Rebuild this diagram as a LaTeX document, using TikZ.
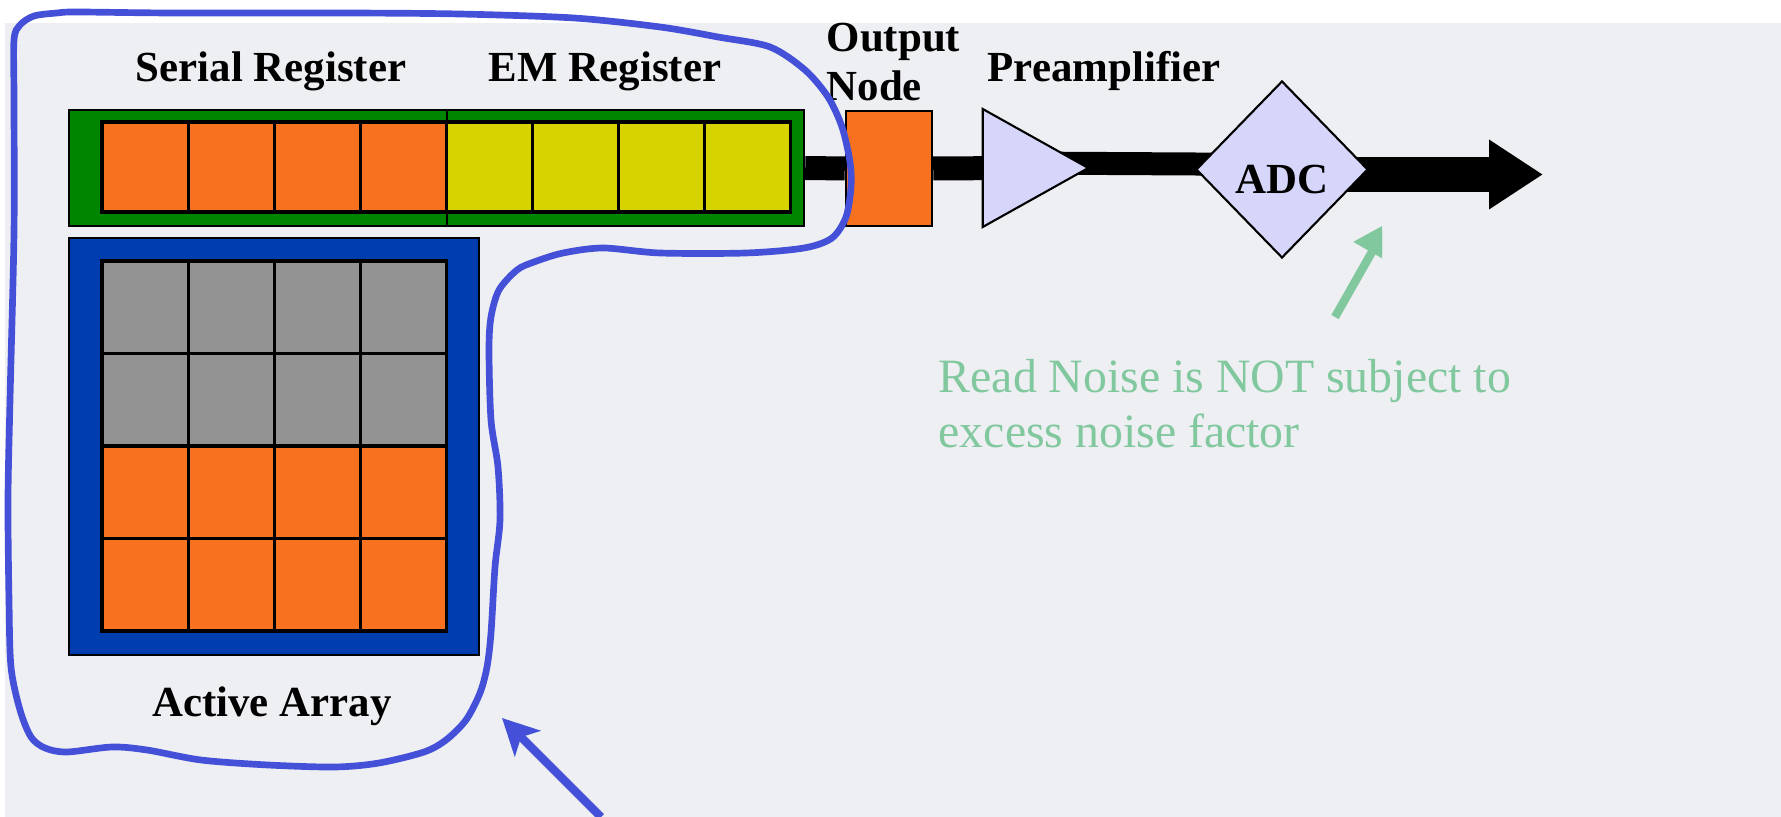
\documentclass[tikz,border=0pt]{standalone}
\usepackage{fontspec}
\setmainfont{Liberation Serif}
\usetikzlibrary{shapes.geometric,arrows.meta,backgrounds}

\definecolor{slidebg}{HTML}{EEEFF3}
\definecolor{cellorange}{HTML}{F7711F}
\definecolor{cellyellow}{HTML}{D7D300}
\definecolor{cellgrey}{HTML}{939393}
\definecolor{reggreen}{HTML}{008500}
\definecolor{arrayblue}{HTML}{003DAF}
\definecolor{partblue}{HTML}{D5D6FA}
\definecolor{lassoblue}{HTML}{4450D8}
\definecolor{notegreen}{HTML}{82C89E}

\tikzset{
    heading/.style={font=\fontsize{12.2}{14.2}\selectfont\bfseries, inner sep=0},
    cell/.style={draw=black, line width=0.9pt},
    regbox/.style={draw=black, fill=reggreen, line width=0.7pt, minimum height=1.16cm, inner sep=0},
    arraybox/.style={draw=black, fill=arrayblue, line width=0.7pt, minimum width=4.10cm, minimum height=4.17cm, inner sep=0},
    outbox/.style={draw=black, fill=cellorange, line width=0.7pt, minimum width=0.86cm, minimum height=1.15cm, inner sep=0},
    amp/.style={isosceles triangle, isosceles triangle stretches, draw=black, fill=partblue, line width=0.6pt,
        minimum width=1.18cm, minimum height=1.055cm, inner sep=0},
    converter/.style={diamond, draw=black, fill=partblue, line width=0.6pt, minimum width=1.72cm,
        minimum height=1.77cm, inner sep=0},
    wire/.style={line width=0.24cm},
    lasso/.style={draw=lassoblue, line width=1.9pt},
}

\begin{document}
\begin{tikzpicture}
    % Size of one cell of the CCD
    \def\cw{0.861}
    \def\ch{0.925}

    \useasboundingbox (0, 0) rectangle (17.81, 8.17);

    % Register boxes and the active array
    \node[regbox, minimum width=4.10cm] (serial) at (2.74, 6.49) {};
    \node[regbox, minimum width=3.57cm] (emreg) at (6.255, 6.49) {};
    \node[arraybox] (array) at (2.74, 3.705) {};

    % Cells of the serial register (orange) and the EM register (yellow)
    \foreach \i in {0,...,3}
        \filldraw[cell, fill=cellorange] (1.02 + \i * \cw, 6.05) rectangle ++(\cw, 0.90);
    \foreach \i in {4,...,7}
        \filldraw[cell, fill=cellyellow] (1.02 + \i * \cw, 6.05) rectangle ++(\cw, 0.90);

    % Pixels of the active array, counted from the bottom row
    \foreach \j/\col in {0/cellorange, 1/cellorange, 2/cellgrey, 3/cellgrey}
        \foreach \i in {0,...,3}
            \filldraw[cell, fill=\col] (1.02 + \i * \cw, 1.86 + \j * \ch) rectangle ++(\cw, \ch);

    % Readout chain
    \node[outbox] (outnode) at (8.89, 6.485) {};
    \node[amp, anchor=apex] (preamp) at (10.91, 6.49) {};
    \node[converter, heading, text height=0.48cm] (adc) at (12.82, 6.475) {ADC};
    \coordinate (readout) at (15.43, 6.425);

    % Slide and the wires go behind the parts
    \begin{scope}[on background layer]
        \fill[slidebg] (0.05, 0) rectangle (17.81, 7.94);
        \draw[wire] (emreg.east) -- (outnode.west);
        \draw[wire] (outnode.east) -- (preamp.center);
        \draw[wire, line width=0.23cm] ([yshift=0.05cm]preamp.center) -- ([yshift=0.05cm]adc.center);
        \draw[line width=0.35cm, -{Triangle[width=6.6mm, length=5.4mm]}] ([yshift=-0.05cm]adc.center) -- (readout);
    \end{scope}

    % Labels
    \node[heading, anchor=base] (seriallabel) at (2.71, 7.35) {Serial Register};
    \node[heading, anchor=base] (emlabel) at (6.05, 7.35) {EM Register};
    \node[heading, anchor=north west, align=left] (outlabel) at (8.26, 7.95) {Output\\Node};
    \node[heading, anchor=base west] (amplabel) at (9.87, 7.35) {Preamplifier};
    \node[heading, anchor=base] (arraylabel) at (2.72, 1.00) {Active Array};

    % Note on the read noise
    \node[anchor=north west, align=left, inner sep=0, text=notegreen,
        font=\fontsize{13.6}{15.6}\selectfont] (note) at (9.38, 4.58)
        {Read Noise is NOT subject to\\excess noise factor};
    \coordinate (notetail) at (13.35, 5.00);
    \coordinate (notetip) at (13.89, 5.95);
    \begin{scope}
        \clip (0, 0) rectangle (13.82, 8.17);
        \draw[notegreen, line width=2.4pt, -{Triangle[width=4mm, length=3.5mm]}] (notetail) -- (notetip);
    \end{scope}

    % Hand drawn loop round the registers and the array
    \draw[lasso] plot[smooth cycle] coordinates {
        (0.14, 7.77) (0.20, 7.92) (0.34, 8.01) (0.57, 8.04) (0.77, 8.05) (1.72, 8.04)
        (3.44, 8.04) (4.59, 8.03) (5.74, 7.99) (6.60, 7.90) (7.18, 7.80) (7.70, 7.70)
        (8.05, 7.47) (8.28, 7.20) (8.42, 6.90) (8.50, 6.55) (8.51, 6.30) (8.46, 6.00)
        (8.32, 5.79) (8.04, 5.69) (7.46, 5.64) (6.60, 5.64) (6.03, 5.69) (5.63, 5.64)
        (5.34, 5.55) (5.17, 5.47) (4.99, 5.27) (4.91, 5.00) (4.89, 4.67) (4.91, 3.97)
        (4.98, 3.50) (5.00, 2.97) (4.95, 2.50) (4.91, 1.84) (4.87, 1.50) (4.80, 1.24)
        (4.66, 0.97) (4.46, 0.77) (4.24, 0.65) (3.79, 0.54) (3.35, 0.50) (2.68, 0.52)
        (2.01, 0.57) (1.47, 0.67) (1.12, 0.70) (0.67, 0.65) (0.45, 0.69) (0.31, 0.80)
        (0.20, 1.07) (0.11, 1.50) (0.09, 2.17) (0.08, 3.17) (0.10, 4.17) (0.14, 5.84)
        (0.14, 7.17)};
    \coordinate (lassotail) at (6.01, 0.0);
    \coordinate (lassotip) at (5.02, 0.99);
    \draw[lassoblue, line width=2.4pt, -{Stealth[width=3.6mm, length=3.6mm, inset=0.9mm]}] (lassotail) -- (lassotip);
\end{tikzpicture}
\end{document}
